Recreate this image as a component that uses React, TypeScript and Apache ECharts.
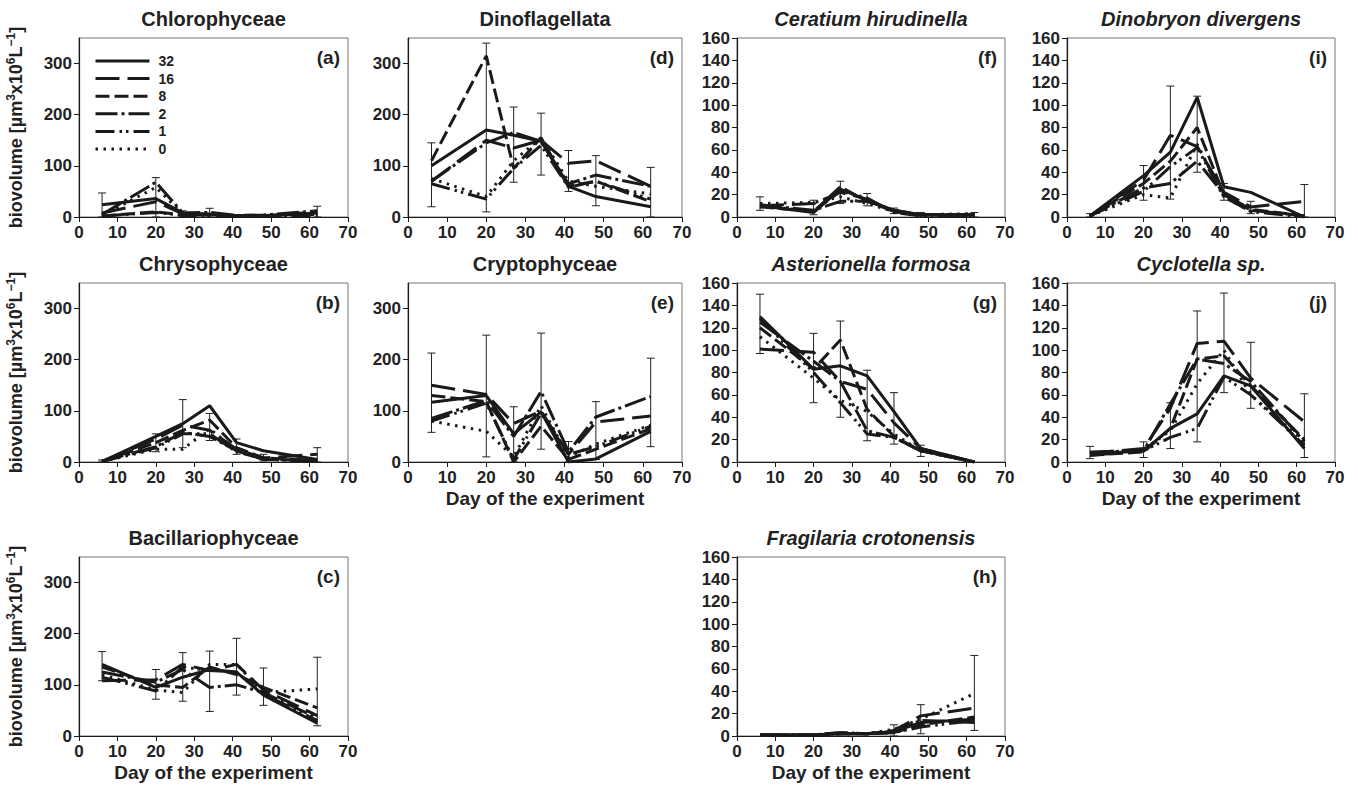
import React, { useEffect, useRef } from 'react';
import * as echarts from 'echarts';

// ---------- data ----------
const days = [6, 20, 27, 34, 41, 48, 62];
const treatments = ['32', '16', '8', '2', '1', '0'];
const xTickLabels = [0, 10, 20, 30, 40, 50, 60, 70];
const yTicksGroups = [0, 100, 200, 300];
const yTicksSpecies = [0, 20, 40, 60, 80, 100, 120, 140, 160];

// rows follow treatments order: 32, 16, 8, 2, 1, 0
const chlorophyceae = [
  [24, 36, 8, 6, 3, 2, 8],
  [8, 30, 6, 5, 2, 3, 5],
  [2, 10, 4, 4, 2, 2, 10],
  [5, 68, 8, 9, 3, 4, 12],
  [2, 9, 3, 3, 2, 3, 3],
  [3, 58, 6, 5, 2, 2, 6],
];
const chlorophyceaeErr = [[6, 0, 47], [20, 0, 77], [27, 0, 12], [34, 0, 17], [62, 0, 21]];

const chrysophyceae = [
  [1, 50, 75, 110, 38, 22, 5],
  [1, 45, 72, 62, 25, 8, 15],
  [1, 38, 62, 82, 28, 8, 3],
  [1, 30, 58, 50, 22, 5, 2],
  [1, 28, 55, 55, 20, 6, 2],
  [1, 25, 25, 65, 22, 5, 2],
];
const chrysophyceaeErr = [[6, 0, 4], [20, 20, 55], [27, 28, 122], [34, 42, 95], [41, 15, 45], [48, 2, 15], [62, 0, 28]];

const bacillariophyceae = [
  [140, 95, 115, 130, 125, 80, 25],
  [108, 110, 140, 128, 140, 90, 40],
  [135, 100, 95, 135, 120, 95, 55],
  [125, 105, 130, 95, 100, 85, 35],
  [115, 88, 135, 128, 125, 82, 30],
  [120, 90, 85, 140, 140, 85, 92],
];
const bacillariophyceaeErr = [[6, 108, 165], [20, 72, 130], [27, 68, 163], [34, 48, 166], [41, 80, 191], [48, 60, 133], [62, 20, 154]];

const dinoflagellata = [
  [100, 170, 160, 148, 60, 40, 20],
  [70, 150, 135, 150, 105, 110, 60],
  [110, 315, 95, 155, 60, 70, 30],
  [70, 145, 165, 148, 65, 82, 60],
  [65, 35, 95, 140, 58, 70, 35],
  [75, 40, 110, 155, 70, 60, 45],
];
const dinoflagellataErr = [[6, 20, 145], [20, 10, 340], [27, 68, 215], [34, 82, 203], [41, 50, 130], [48, 22, 120], [62, 0, 97]];

const cryptophyceae = [
  [117, 130, 55, 98, 0, 6, 60],
  [150, 132, 75, 100, 15, 78, 90],
  [130, 118, 0, 70, 5, 25, 65],
  [85, 120, 50, 138, 20, 88, 128],
  [80, 115, 5, 95, 15, 30, 70],
  [80, 60, 10, 110, 10, 35, 72],
];
const cryptophyceaeErr = [[6, 58, 213], [20, 10, 248], [27, 0, 108], [34, 25, 252], [41, 0, 40], [48, 5, 118], [62, 30, 203]];

const ceratium = [
  [10, 4, 25, 15, 6, 2, 2],
  [10, 12, 22, 16, 5, 2, 2],
  [9, 5, 27, 14, 5, 2, 1],
  [11, 6, 14, 14, 6, 2, 2],
  [10, 5, 23, 17, 4, 1, 1],
  [12, 13, 18, 12, 5, 2, 3],
];
const ceratiumErr = [[6, 6, 18], [20, 2, 15], [27, 12, 32], [34, 10, 21], [41, 3, 8], [48, 0, 4], [62, 0, 4]];

const asterionella = [
  [130, 83, 86, 77, 45, 12, 0],
  [101, 98, 72, 65, 35, 12, 0],
  [120, 83, 109, 47, 23, 10, 0],
  [125, 90, 72, 28, 22, 10, 0],
  [128, 80, 53, 25, 22, 10, 0],
  [112, 75, 55, 45, 25, 10, 0],
];
const asterionellaErr = [[6, 97, 150], [20, 53, 115], [27, 40, 126], [34, 19, 82], [41, 16, 62], [48, 5, 15]];

const fragilaria = [
  [1, 1, 2, 2, 4, 12, 15],
  [1, 1, 3, 2, 5, 18, 25],
  [1, 1, 2, 2, 3, 10, 17],
  [1, 1, 3, 2, 4, 14, 12],
  [1, 1, 2, 2, 3, 8, 14],
  [1, 1, 2, 2, 6, 15, 38],
];
const fragilariaErr = [[41, 0, 10], [48, 2, 28], [62, 5, 72]];

const dinobryon = [
  [1, 37, 58, 107, 27, 22, 0],
  [1, 33, 73, 63, 22, 9, 14],
  [1, 30, 50, 80, 20, 7, 1],
  [1, 26, 30, 50, 20, 6, 1],
  [1, 23, 45, 62, 18, 5, 0],
  [1, 20, 17, 65, 18, 5, 1],
];
const dinobryonErr = [[6, 0, 3], [20, 15, 46], [27, 16, 117], [34, 40, 108], [41, 15, 30], [48, 3, 14], [62, 0, 29]];

const cyclotella = [
  [7, 10, 30, 43, 77, 68, 12],
  [8, 12, 48, 106, 108, 75, 36],
  [6, 9, 30, 92, 95, 68, 20],
  [9, 10, 52, 92, 88, 72, 18],
  [6, 10, 22, 30, 76, 60, 15],
  [7, 11, 28, 70, 100, 60, 18],
];
const cyclotellaErr = [[6, 3, 14], [20, 4, 18], [27, 12, 53], [34, 18, 135], [41, 62, 151], [48, 48, 107], [62, 4, 61]];

// ---------- layout / style ----------
const FONT = '"Liberation Sans", Arial, sans-serif';
const INK = '#1a1a1a';
const GRID_H = 179;

const panels = [
  { letter: '(a)', title: 'Chlorophyceae', italic: false, values: chlorophyceae, err: chlorophyceaeErr, left: 79, top: 38, width: 269, big: true, yName: true, xName: false },
  { letter: '(b)', title: 'Chrysophyceae', italic: false, values: chrysophyceae, err: chrysophyceaeErr, left: 79, top: 283, width: 269, big: true, yName: true, xName: false },
  { letter: '(c)', title: 'Bacillariophyceae', italic: false, values: bacillariophyceae, err: bacillariophyceaeErr, left: 79, top: 557, width: 269, big: true, yName: true, xName: true },
  { letter: '(d)', title: 'Dinoflagellata', italic: false, values: dinoflagellata, err: dinoflagellataErr, left: 408, top: 38, width: 274, big: true, yName: false, xName: false },
  { letter: '(e)', title: 'Cryptophyceae', italic: false, values: cryptophyceae, err: cryptophyceaeErr, left: 408, top: 283, width: 274, big: true, yName: false, xName: true },
  { letter: '(f)', title: 'Ceratium hirudinella', italic: true, values: ceratium, err: ceratiumErr, left: 737, top: 38, width: 268, big: false, yName: false, xName: false },
  { letter: '(g)', title: 'Asterionella formosa', italic: true, values: asterionella, err: asterionellaErr, left: 737, top: 283, width: 268, big: false, yName: false, xName: false },
  { letter: '(h)', title: 'Fragilaria crotonensis', italic: true, values: fragilaria, err: fragilariaErr, left: 737, top: 557, width: 268, big: false, yName: false, xName: true },
  { letter: '(i)', title: 'Dinobryon divergens', italic: true, values: dinobryon, err: dinobryonErr, left: 1067, top: 38, width: 268, big: false, yName: false, xName: false },
  { letter: '(j)', title: 'Cyclotella sp.', italic: true, values: cyclotella, err: cyclotellaErr, left: 1067, top: 283, width: 268, big: false, yName: false, xName: true },
];

const dashes: Record<string, any> = {
  '32': 'solid',
  '16': [24, 8],
  '8': [14, 5],
  '2': [22, 4, 3, 4],
  '1': [19, 5, 2.5, 4, 2.5, 5],
  '0': [2.5, 5.5],
};

function buildOption() {
  const grid: any[] = [];
  const xAxis: any[] = [];
  const yAxis: any[] = [];
  const series: any[] = [];
  const graphic: any[] = [];

  panels.forEach((p, i) => {
    grid.push({
      left: p.left, top: p.top, width: p.width, height: GRID_H,
      show: true, borderColor: '#777', borderWidth: 1,
    });
    xAxis.push({
      gridIndex: i, type: 'value', min: 0, max: 70, interval: 10,
      axisLine: { show: true, onZero: false, lineStyle: { color: INK, width: 1.2 } },
      axisTick: { show: true, length: 5, lineStyle: { color: INK } },
      axisLabel: { fontSize: 17, fontWeight: 'bold', color: '#222', fontFamily: FONT, margin: 7,
        customValues: xTickLabels },
      splitLine: { show: false },
      name: p.xName ? 'Day of the experiment' : '',
      nameLocation: 'middle', nameGap: 27,
      nameTextStyle: { fontSize: 19, fontWeight: 'bold', color: '#222', fontFamily: FONT },
    });
    const ticks = p.big ? yTicksGroups : yTicksSpecies;
    yAxis.push({
      gridIndex: i, type: 'value', min: 0, max: p.big ? 350 : 160,
      axisLine: { show: true, onZero: false, lineStyle: { color: INK, width: 1.2 } },
      axisTick: { show: true, length: 5, lineStyle: { color: INK }, customValues: ticks },
      axisLabel: { fontSize: 17, fontWeight: 'bold', color: '#222', fontFamily: FONT, margin: 7, customValues: ticks },
      splitLine: { show: false },
      name: p.yName ? '{a|biovolume [µm}{s|3}{a|x10}{s|6}{a|L}{s|−1}{a|]}' : '',
      nameLocation: 'middle', nameRotate: 90, nameGap: 52,
      nameTextStyle: {
        color: '#222', fontFamily: FONT,
        rich: {
          a: { fontSize: 18, fontWeight: 'bold', color: '#222', fontFamily: FONT, lineHeight: 22 },
          s: { fontSize: 12, fontWeight: 'bold', color: '#222', fontFamily: FONT, verticalAlign: 'top', lineHeight: 22 },
        },
      },
    });

    treatments.forEach((t, k) => {
      series.push({
        type: 'line', name: t, xAxisIndex: i, yAxisIndex: i,
        data: days.map((d, j) => [d, p.values[k][j]]),
        symbol: 'none', showSymbol: false,
        lineStyle: { color: INK, width: 3, type: dashes[t], cap: 'butt' },
        itemStyle: { color: INK },
        z: 3,
      });
    });

    series.push({
      type: 'custom', name: 'err' + i, xAxisIndex: i, yAxisIndex: i,
      data: p.err,
      encode: { x: 0, y: [1, 2] },
      z: 2,
      renderItem: (params: any, api: any) => {
        const x = api.value(0);
        const lo = api.coord([x, api.value(1)]);
        const hi = api.coord([x, api.value(2)]);
        const w = 4;
        const st = { stroke: '#222', lineWidth: 1 };
        return {
          type: 'group',
          children: [
            { type: 'line', shape: { x1: lo[0], y1: lo[1], x2: hi[0], y2: hi[1] }, style: st },
            { type: 'line', shape: { x1: lo[0] - w, y1: lo[1], x2: lo[0] + w, y2: lo[1] }, style: st },
            { type: 'line', shape: { x1: hi[0] - w, y1: hi[1], x2: hi[0] + w, y2: hi[1] }, style: st },
          ],
        };
      },
    });

    graphic.push({
      type: 'text', x: p.left + p.width / 2, y: p.top - 19,
      style: {
        text: p.title, fill: '#222', align: 'center', verticalAlign: 'middle',
        fontSize: 20, fontWeight: 'bold', fontStyle: p.italic ? 'italic' : 'normal', fontFamily: FONT,
      },
    });
    graphic.push({
      type: 'text', x: p.left + p.width - 8, y: p.top + 19,
      style: {
        text: p.letter, fill: '#222', align: 'right', verticalAlign: 'middle',
        fontSize: 19, fontWeight: 'bold', fontFamily: FONT,
      },
    });
  });

  return {
    animation: false,
    backgroundColor: '#fff',
    grid, xAxis, yAxis, series, graphic,
    legend: {
      data: treatments, orient: 'vertical', left: 89, top: 49,
      itemWidth: 54, itemHeight: 11, itemGap: 3.6,
      itemStyle: { opacity: 0 },
      lineStyle: { width: 3 },
      textStyle: { fontSize: 14, fontWeight: 'bold', color: '#222', fontFamily: FONT, padding: [0, 0, 0, 4] },
      selectedMode: false,
    },
  };
}

export default function App() {
  const ref = useRef<HTMLDivElement>(null);
  useEffect(() => {
    if (!ref.current) return;
    const chart = echarts.init(ref.current, undefined, { renderer: 'svg' });
    chart.setOption(buildOption() as any);
    return () => chart.dispose();
  }, []);
  return (
    <div
      ref={ref}
      style={{ position: 'fixed', left: 0, top: 0, width: 1358, height: 790, background: '#fff' }}
    />
  );
}
